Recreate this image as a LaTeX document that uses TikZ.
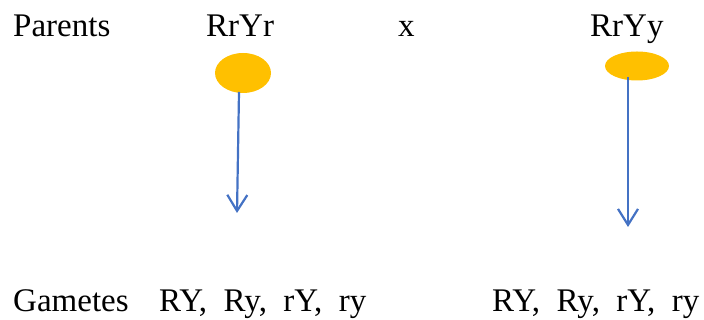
\documentclass[tikz,border=0pt]{standalone}
\usepackage{fontspec}
\setmainfont{Liberation Serif}
\usetikzlibrary{arrows.meta,shapes.geometric}
\definecolor{gold}{HTML}{FFC000}
\definecolor{officeblue}{HTML}{4472C4}
\begin{document}
\begin{tikzpicture}[x=1pt,y=1pt,
  lbl/.style={anchor=base west,inner sep=0pt,font=\fontsize{33}{40}\selectfont},
  blob/.style={ellipse,fill=gold,draw=none,inner sep=0pt},
  link/.style={draw=officeblue,line width=2.2pt,-{Straight Barb[length=16pt,width=20pt,line width=2.2pt]}}]
\useasboundingbox (0,0) rectangle (704,320);
\node[lbl] (parents) at (13,283) {Parents};
\node[lbl] (p1) at (206,283) {RrYr};
\node[lbl] (cross) at (398,283) {x};
\node[lbl] (p2) at (590,283) {RrYy};
\node[lbl] (gametes) at (13,8) {Gametes};
\node[lbl] (g1) at (159,8) {RY,\ \ Ry,\ \ rY,\ \ ry};
\node[lbl] (g2) at (492,8) {RY,\ \ Ry,\ \ rY,\ \ ry};
\node[blob,minimum width=56pt,minimum height=40pt] (e1) at (243,247) {};
\node[blob,minimum width=64pt,minimum height=29pt] (e2) at (637,254) {};
\coordinate (s1) at (239,228);
\coordinate (t1) at (237,107);
\coordinate (s2) at (628,243);
\coordinate (t2) at (628,93);
\draw[link] (s1) -- (t1);
\draw[link] (s2) -- (t2);
\end{tikzpicture}
\end{document}
